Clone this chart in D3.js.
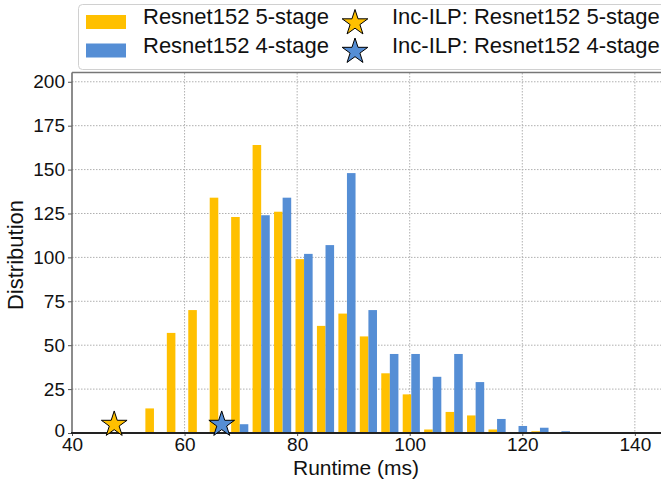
<!DOCTYPE html>
<html>
<head>
<meta charset="utf-8">
<script src="https://cdnjs.cloudflare.com/ajax/libs/d3/7.8.5/d3.min.js"></script>
<style>
  body { margin: 0; background: #fff; }
  text { font-family: "Liberation Sans", Arial, sans-serif; fill: #111; }
</style>
</head>
<body>
<div id="chart"></div>
<script>
// bin centres (ms) and counts
var binCenters = [54.56, 58.37, 62.18, 65.99, 69.80, 73.61, 77.42, 81.23, 85.04, 88.85,
                  92.66, 96.47, 100.28, 104.09, 107.90, 111.71, 115.52, 119.33, 123.14, 126.95]
var binWidth = 3.81
var stage5 = [14, 57, 70, 134, 123, 164, 126, 99, 61, 68, 55, 34, 22, 2, 12, 10, 2, 0, 1, 0]
var stage4 = [0, 0, 0, 0, 5, 124, 134, 102, 107, 148, 70, 45, 45, 32, 45, 29, 8, 4, 3, 1]
var starPoints = [{x: 47.5, y: 6, s: 0}, {x: 66.6, y: 6, s: 1}]
var yTicks = [0, 25, 50, 75, 100, 125, 150, 175, 200]
var xTicks = [40, 60, 80, 100, 120, 140]
var colors = ["#FFC000", "#558ED5"]
var legendBars = ["Resnet152 5-stage", "Resnet152 4-stage"]
var legendStars = ["Inc-ILP: Resnet152 5-stage", "Inc-ILP: Resnet152 4-stage"]

var width = 661, height = 479
var svg = d3.select("#chart").append("svg")
            .attr("width", width)
            .attr("height", height)

var x = d3.scaleLinear().domain([40, 145]).range([72, 663])
var y = d3.scaleLinear().domain([0, 205]).range([433, 73])

// grid
svg.append("g")
   .selectAll("line")
   .data(yTicks.slice(1))
   .enter()
   .append("line")
   .attr("x1", 72).attr("x2", width)
   .attr("y1", function(d) {return y(d);})
   .attr("y2", function(d) {return y(d);})
   .attr("stroke", "#b0b0b0")
   .attr("stroke-dasharray", "1.5,1.5")
svg.append("g")
   .selectAll("line")
   .data(xTicks.slice(1))
   .enter()
   .append("line")
   .attr("y1", 73).attr("y2", 433)
   .attr("x1", function(d) {return x(d);})
   .attr("x2", function(d) {return x(d);})
   .attr("stroke", "#b0b0b0")
   .attr("stroke-dasharray", "1.5,1.5")

// bars
var bars = []
binCenters.forEach(function(c, i) {
  bars.push({x0: c - 0.4 * binWidth, v: stage5[i], s: 0})
  bars.push({x0: c, v: stage4[i], s: 1})
})
svg.append("g")
   .selectAll("rect")
   .data(bars.filter(function(d) {return d.v > 0;}))
   .enter()
   .append("rect")
   .attr("x", function(d) {return x(d.x0);})
   .attr("width", function(d) {return x(d.x0 + 0.4 * binWidth) - x(d.x0);})
   .attr("y", function(d) {return y(d.v);})
   .attr("height", function(d) {return y(0) - y(d.v);})
   .attr("fill", function(d) {return colors[d.s];})

// axes
var yAxis = svg.append("g")
   .attr("transform", "translate(72,0)")
   .call(d3.axisLeft(y).tickValues(yTicks).tickSize(4).tickPadding(3))
yAxis.select(".domain").remove()
yAxis.selectAll("line").attr("stroke", "#555")
yAxis.selectAll("text").style("font-size", "19px").attr("fill", "#111")
yAxis.selectAll("text").filter(function(d) {return d === 0;}).attr("dy", "0.2em")

var xAxis = svg.append("g")
   .attr("transform", "translate(0,433)")
   .call(d3.axisBottom(x).tickValues(xTicks).tickSize(3).tickPadding(2))
xAxis.select(".domain").remove()
xAxis.selectAll("line").attr("stroke", "#555")
xAxis.selectAll("text").style("font-size", "19px").attr("fill", "#111")

svg.append("line").attr("x1", 72).attr("x2", 72).attr("y1", 72.5).attr("y2", 433)
   .attr("stroke", "#666").attr("stroke-width", 1.5)
svg.append("line").attr("x1", 72).attr("x2", width).attr("y1", 72.5).attr("y2", 72.5)
   .attr("stroke", "#777").attr("stroke-width", 1.5)
svg.append("line").attr("x1", 71).attr("x2", width).attr("y1", 433).attr("y2", 433)
   .attr("stroke", "#222").attr("stroke-width", 2)

// stars
var star = d3.symbol().type(d3.symbolStar).size(205)
svg.append("g")
   .selectAll("path")
   .data(starPoints)
   .enter()
   .append("path")
   .attr("d", star)
   .attr("transform", function(d) {return "translate(" + x(d.x) + "," + (y(d.y) + 2) + ")";})
   .attr("fill", function(d) {return colors[d.s];})
   .attr("stroke", "#000")
   .attr("stroke-width", 1)

// labels
svg.append("text")
   .attr("x", 356).attr("y", 475)
   .attr("text-anchor", "middle")
   .style("font-size", "21px")
   .text("Runtime (ms)")
svg.append("text")
   .attr("transform", "translate(23,255) rotate(-90)")
   .attr("text-anchor", "middle")
   .style("font-size", "22px")
   .text("Distribution")

// legend
var legend = svg.append("g")
legend.append("rect")
   .attr("x", 78.5).attr("y", 4.5)
   .attr("width", 600).attr("height", 65)
   .attr("rx", 4)
   .attr("fill", "#fff")
   .attr("stroke", "#d0d0d0")
legendBars.forEach(function(name, i) {
  var cy = 22 + i * 28.5
  legend.append("rect")
     .attr("x", 86).attr("y", cy - 7)
     .attr("width", 40).attr("height", 14)
     .attr("fill", colors[i])
  legend.append("text")
     .attr("x", 143).attr("y", cy + 2)
     .style("font-size", "22px")
     .text(name)
})
legendStars.forEach(function(name, i) {
  var cy = 22 + i * 28.5
  legend.append("path")
     .attr("d", star)
     .attr("transform", "translate(355," + (cy + 1) + ")")
     .attr("fill", colors[i])
     .attr("stroke", "#000")
     .attr("stroke-width", 1)
  legend.append("text")
     .attr("x", 392).attr("y", cy + 2)
     .style("font-size", "22px")
     .text(name)
})
</script>
</body>
</html>
